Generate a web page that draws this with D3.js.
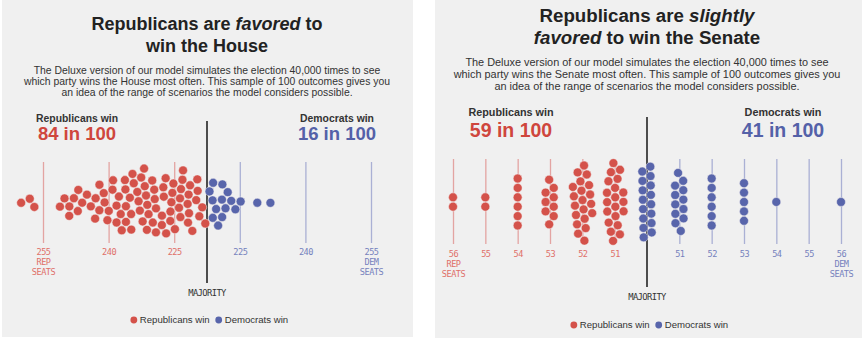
<!DOCTYPE html>
<html><head><meta charset="utf-8">
<script src="https://cdn.jsdelivr.net/npm/d3@7"></script>
<style>
body{margin:0;background:#fff;}
svg{display:block;font-family:"Liberation Sans",Arial,sans-serif;}
</style></head><body>
<svg id="c" width="863" height="340"></svg>
<script>
// ---------- DATA ----------
// House: sampled outcomes (seats won by the winning party)
const houseRepSeats = [260,258,257,
  251,250,249,249, 248,247,247, 246,245,244, 243,243,242,242, 241,241,240,240, 239,239,238,238,238,
  237,237,236,236,236,236,235,235,
  235,234,234,234,233,233,233,
  232,232,232,231,231,231,231,
  230,230,230,229,229,229,228,
  228,228,227,227,227,226,226,
  225,225,225,225,224,224,224,
  223,223,223,222,222,222,222,
  221,221,220,220,220,219,219,218];
const houseDemSeats = [218,219,219,219,220,220,221,221,221,221,222,223,224,225,229,232];
const houseTickSeats = [255,240,225,225,240,255];
const houseTickSides = ["R","R","R","D","D","D"];
const houseTotal = 435;

// Senate: counts of outcomes per seat total
const senateRepSeats = [56,55,54,53,52,51];
const senateRepCounts = [2,2,6,9,20,20];
const senateDemSeats = [50,51,52,53,54,55,56];
const senateDemCounts = [16,12,6,5,1,0,1];
const senateTickSeats = [56,55,54,53,52,51,51,52,53,54,55,56];
const senateTickSides = ["R","R","R","R","R","R","D","D","D","D","D","D"];
const senateTotal = 100;

const titleHouse = [[{t:"Republicans are "},{t:"favored",i:true},{t:" to"}],[{t:"win the House"}]];
const titleSenate = [[{t:"Republicans are "},{t:"slightly",i:true}],[{t:"favored",i:true},{t:" to win the Senate"}]];
const subHouse = ["The Deluxe version of our model simulates the election 40,000 times to see",
  "which party wins the House most often. This sample of 100 outcomes gives you",
  "an idea of the range of scenarios the model considers possible."];
const subSenate = ["The Deluxe version of our model simulates the election 40,000 times to see",
  "which party wins the Senate most often. This sample of 100 outcomes gives you",
  "an idea of the range of scenarios the model considers possible."];
const winLabels = ["Republicans win","Democrats win"];
const houseOdds = ["84 in 100","16 in 100"];
const senateOdds = ["59 in 100","41 in 100"];

// ---------- STYLE ----------
const RED="#d4524a", BLUE="#5865ab", RED_T="#cf463d", BLUE_T="#5461a8";
const RED_TICK="#e3a4a2", BLUE_TICK="#aab0d4", RED_LAB="#df6f68", BLUE_LAB="#7581bd";
const MONO="'DejaVu Sans Mono','Liberation Mono',monospace";
const svg = d3.select("#c");

function repEquiv(side, seats, total){ return side==="R" ? seats : total - seats; }

function drawPanel(cfg){
  const g = svg.append("g");
  g.append("rect").attr("x",cfg.px).attr("y",0).attr("width",cfg.pw).attr("height",cfg.ph).attr("fill","#f0f0f0");
  cfg.title.forEach((line,k)=>{
    const t = g.append("text").attr("x",cfg.cx).attr("y",cfg.titleY[k]).attr("text-anchor","middle")
      .attr("font-size",cfg.titleSize).attr("font-weight","bold").attr("fill","#222");
    line.forEach(s=>t.append("tspan").text(s.t).attr("font-style",s.i?"italic":"normal"));
  });
  cfg.sub.forEach((s,k)=>g.append("text").attr("x",cfg.cx).attr("y",cfg.subY[k]).attr("text-anchor","middle")
      .attr("font-size",cfg.subSize).attr("fill","#333").text(s));
  [0,1].forEach(k=>{
    g.append("text").attr("x",cfg.winX[k]).attr("y",cfg.winY).attr("text-anchor","middle")
      .attr("font-size",cfg.winSize).attr("font-weight","bold").attr("fill","#333").text(winLabels[k]);
    g.append("text").attr("x",cfg.winX[k]).attr("y",cfg.oddsY).attr("text-anchor","middle")
      .attr("font-size",cfg.oddsSize).attr("font-weight","bold").attr("fill",k?BLUE_T:RED_T).text(cfg.odds[k]);
  });
  const x = cfg.x;
  const tickVals = cfg.tickSeats.map((s,i)=>repEquiv(cfg.tickSides[i],s,cfg.total));
  const axis = d3.axisBottom(x).tickValues(tickVals).tickSize(-(cfg.tickBot-cfg.tickTop)).tickPadding(cfg.tickPad)
      .tickFormat((d,i)=>cfg.tickSeats[i]);
  const ag = g.append("g").attr("transform",`translate(0,${cfg.tickBot})`).call(axis);
  ag.select(".domain").remove();
  ag.selectAll(".tick line").attr("stroke",(d,i)=>cfg.tickSides[i]==="R"?RED_TICK:BLUE_TICK).attr("stroke-width",1.3);
  ag.selectAll(".tick text").attr("fill",(d,i)=>cfg.tickSides[i]==="R"?RED_LAB:BLUE_LAB)
    .attr("font-family",MONO).attr("font-size",8.6).attr("letter-spacing","-0.5px");
  ag.selectAll(".tick").each(function(d,i){
    const n = cfg.tickSeats.length;
    if(i===0||i===n-1){
      const tk = d3.select(this), base = tk.select("text");
      const y0 = +base.attr("y");
      [i===0?"REP":"DEM","SEATS"].forEach((w,j)=>tk.append("text")
        .attr("x",0).attr("y",y0+(j+1)*10).attr("dy",base.attr("dy"))
        .attr("fill",i===0?RED_LAB:BLUE_LAB).attr("font-family",MONO).attr("font-size",8.6)
        .attr("letter-spacing","-0.5px").attr("text-anchor","middle").text(w));
    }
  });
  g.append("line").attr("x1",x(cfg.majority)).attr("x2",x(cfg.majority)).attr("y1",cfg.majTop).attr("y2",cfg.majBot)
    .attr("stroke","#3a3a3a").attr("stroke-width",1.8);
  g.append("text").attr("x",x(cfg.majority)).attr("y",cfg.majLabY).attr("text-anchor","middle")
    .attr("font-family",MONO).attr("font-size",8.8).attr("letter-spacing","-0.6px").attr("fill","#333").text("MAJORITY");
  // dots via force beeswarm
  const r = 4.5;
  const nodes = cfg.nodes.map((d,i)=>({...d, tx:x(d.rep), x:x(d.rep), y:cfg.cy + ((i%7)-3)*1.3}));
  const sim = d3.forceSimulation(nodes)
    .force("x", d3.forceX(d=>d.tx).strength(cfg.xStr))
    .force("y", d3.forceY(cfg.cy).strength(cfg.yStr))
    .force("c", d3.forceCollide(r+0.2).iterations(3)).stop();
  const mx = x(cfg.majority);
  for(let i=0;i<400;i++){
    sim.tick();
    if(cfg.clamp) nodes.forEach(d=>{ if(d.side==="R" && d.x>mx-1.5) d.x=mx-1.5; if(d.side==="D" && d.x<mx+2.5) d.x=mx+2.5; });
  }
  g.append("g").selectAll("circle").data(nodes).join("circle")
    .attr("cx",d=>d.x).attr("cy",d=>d.y).attr("r",r-0.05)
    .attr("fill",d=>d.side==="R"?RED:BLUE).attr("stroke","#f3eeee").attr("stroke-width",0.5);
  // legend, centered
  const L = cfg.legend;
  const lg = g.append("g");
  const t1 = lg.append("text").attr("y",L.y+3.4).attr("font-size",9.6).attr("fill","#333").text(winLabels[0]);
  const t2 = lg.append("text").attr("y",L.y+3.4).attr("font-size",9.6).attr("fill","#333").text(winLabels[1]);
  const w1 = t1.node().getComputedTextLength(), w2 = t2.node().getComputedTextLength();
  const total = 7 + w1 + 7 + 7 + w2;
  let x0 = L.cx - total/2;
  lg.append("circle").attr("cx",x0+3).attr("cy",L.y).attr("r",3.4).attr("fill",RED);
  t1.attr("x",x0+9);
  const bx = x0+9+w1+6;
  lg.append("circle").attr("cx",bx+3).attr("cy",L.y).attr("r",3.4).attr("fill",BLUE);
  t2.attr("x",bx+9);
}

const houseNodes = houseRepSeats.map(s=>({side:"R",rep:s}))
  .concat(houseDemSeats.map(s=>({side:"D",rep:houseTotal-s})));
drawPanel({
  px:2,pw:411,ph:337,cx:207,
  title:titleHouse,titleY:[30,52],titleSize:18,
  sub:subHouse,subY:[73.5,84.5,95.5],subSize:10.4,
  winX:[77,337],winY:122,winSize:10.4,oddsY:140,oddsSize:18.5,odds:houseOdds,
  x:d3.scaleLinear().domain([255,180]).range([43,371]),
  tickSeats:houseTickSeats,tickSides:houseTickSides,total:houseTotal,
  tickTop:162,tickBot:243,tickPad:6,
  majority:217.5,majTop:121,majBot:283,majLabY:296,
  nodes:houseNodes,cy:203,xStr:0.9,yStr:0.04,clamp:true,
  legend:{y:320,cx:208}
});

const senateNodes = [];
senateRepSeats.forEach((s,i)=>{ for(let k=0;k<senateRepCounts[i];k++) senateNodes.push({side:"R",rep:s}); });
senateDemSeats.forEach((s,i)=>{ for(let k=0;k<senateDemCounts[i];k++) senateNodes.push({side:"D",rep:senateTotal-s}); });
drawPanel({
  px:435,pw:427,ph:338,cx:647,
  title:titleSenate,titleY:[22,43.5],titleSize:18.7,
  sub:subSenate,subY:[66,78,90],subSize:10.9,
  winX:[511,783],winY:116,winSize:10.8,oddsY:137,oddsSize:19.5,odds:senateOdds,
  x:d3.scaleLinear().domain([56,44]).range([453,841]),
  tickSeats:senateTickSeats,tickSides:senateTickSides,total:senateTotal,
  tickTop:159,tickBot:244,tickPad:7,
  majority:50,majTop:117,majBot:287,majLabY:300,
  nodes:senateNodes,cy:202,xStr:1,yStr:0.07,clamp:false,
  legend:{y:325,cx:648}
});
</script>
</body></html>
